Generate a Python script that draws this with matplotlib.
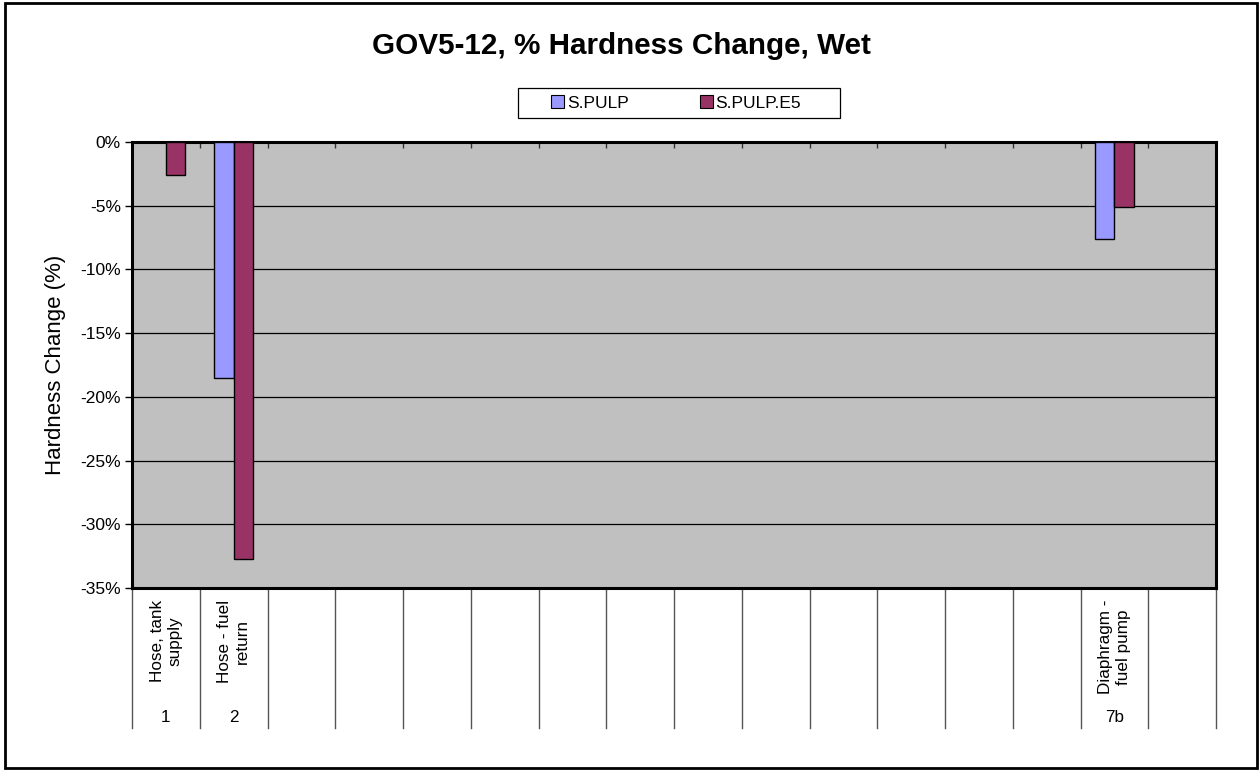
import matplotlib
matplotlib.use("Agg")
import matplotlib.pyplot as plt
from matplotlib.patches import Rectangle, Patch
import numpy as np

plt.rcParams["font.family"] = ["Liberation Sans", "DejaVu Sans"]

# ---- data (16 category slots, most empty) ----
parts = ["Hose, tank\nsupply", "Hose - fuel\nreturn", "", "", "", "", "", "",
         "", "", "", "", "", "", "Diaphragm -\nfuel pump", ""]
codes = ["1", "2", "", "", "", "", "", "", "", "", "", "", "", "", "7b", ""]
nan = np.nan
s_pulp = [nan, -18.5, nan, nan, nan, nan, nan, nan, nan, nan, nan, nan, nan, nan, -7.6, nan]
s_pulp_e5 = [-2.6, -32.7, nan, nan, nan, nan, nan, nan, nan, nan, nan, nan, nan, nan, -5.1, nan]
yticks = [0, -5, -10, -15, -20, -25, -30, -35]

PULP_C = "#9999FF"; E5_C = "#993366"; BG = "#C0C0C0"

W, H = 1260, 771
fig = plt.figure(figsize=(W / 100, H / 100), dpi=100)
x0, x1, y0, y1 = 132, 1216, 142, 588
ax = fig.add_axes([x0 / W, 1 - y1 / H, (x1 - x0) / W, (y1 - y0) / H])
ax.set_facecolor(BG)

n = len(parts)
idx = np.arange(n)
w = 0.288
ax.bar(idx - w / 2, s_pulp, w, color=PULP_C, edgecolor="black", lw=1, zorder=3)
ax.bar(idx + w / 2, s_pulp_e5, w, color=E5_C, edgecolor="black", lw=1, zorder=3)

ax.set_xlim(-0.5, n - 0.5)
ax.set_ylim(-35, 0)
ax.set_yticks(yticks)
ax.set_yticklabels([f"{v}%" for v in yticks], fontsize=12.5)
ax.grid(axis="y", color="black", lw=0.9, zorder=1)
ax.set_axisbelow(True)
for s in ax.spines.values():
    s.set_linewidth(2.2); s.set_color("black")
ax.tick_params(axis="y", length=5, width=1, pad=3)
ax.set_xticks(np.arange(n - 1) + 0.5)
ax.tick_params(axis="x", bottom=False, top=True, direction="in", length=4, width=1,
               labelbottom=False, labeltop=False, color="#333333")
ax.set_ylabel("Hardness Change (%)", fontsize=16, labelpad=10)

# ---- multi-level category axis below ----
trans = ax.get_xaxis_transform()
ybot = -(728 - y1) / (y1 - y0)
for b in np.arange(n + 1) - 0.5:
    ax.plot([b, b], [0, ybot], color="#555555", lw=1, transform=trans, clip_on=False)
for i in idx:
    if parts[i]:
        ax.text(i, -(600 - y1) / (y1 - y0), parts[i], transform=trans, rotation=90,
                ha="center", va="top", multialignment="center", fontsize=12.3)
    if codes[i]:
        ax.text(i, -(717 - y1) / (y1 - y0), codes[i], transform=trans,
                ha="center", va="center", fontsize=12.3)

fig.text(621 / W, 1 - 46 / H, "GOV5-12, % Hardness Change, Wet",
         ha="center", va="center", fontsize=21.3, fontweight="bold")

# legend: own box, entries placed inside it
fig.patches.append(Rectangle((518 / W, 1 - 118 / H), 322 / W, 30 / H,
                             transform=fig.transFigure, facecolor="white",
                             edgecolor="black", lw=0.9))
handles = [Patch(facecolor=PULP_C, edgecolor="black", lw=0.8),
           Patch(facecolor=E5_C, edgecolor="black", lw=0.8)]
fig.legend(handles, ["S.PULP", "S.PULP.E5"], ncol=2, loc="center",
           bbox_to_anchor=(676 / W, 1 - 103 / H), fontsize=12.5, frameon=False,
           handlelength=0.75, handleheight=0.75, handletextpad=0.15,
           columnspacing=4.1, borderpad=0.4, borderaxespad=0)

fig.patches.append(Rectangle((5 / W, 3 / H), 1252 / W, 765 / H, transform=fig.transFigure,
                             fill=False, edgecolor="black", lw=2))

fig.savefig("out.png", dpi=100, facecolor="white")
